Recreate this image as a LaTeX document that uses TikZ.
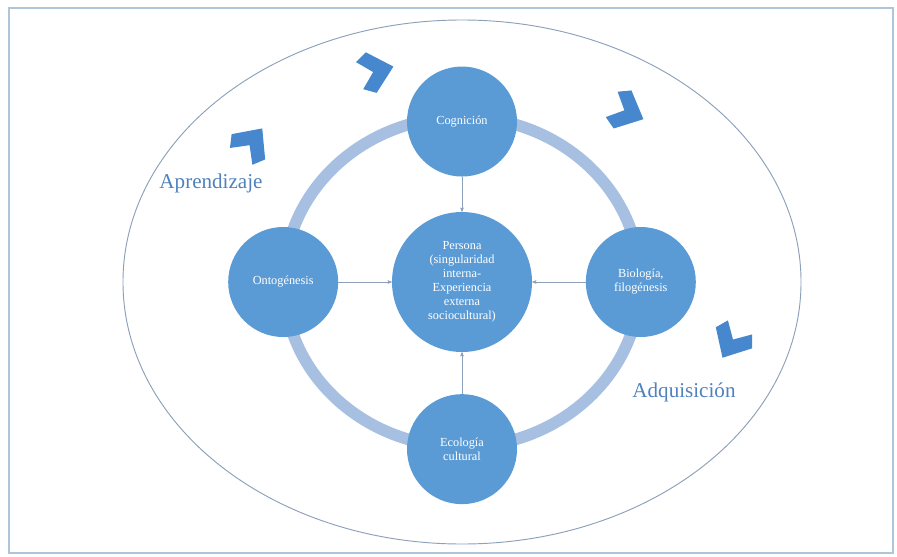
\documentclass[tikz,border=0pt]{standalone}
\usepackage{fontspec}
\setmainfont{Liberation Serif}
\usetikzlibrary{arrows,backgrounds,positioning}
\definecolor{nodeblue}{RGB}{91,155,213}
\definecolor{chevblue}{RGB}{70,135,205}
\definecolor{ringblue}{RGB}{167,192,226}
\definecolor{labelblue}{RGB}{79,129,189}
\definecolor{linegray}{RGB}{140,160,185}
\definecolor{framecol}{RGB}{175,198,218}
\tikzset{
stage/.style={
    circle,
    fill=nodeblue,
    text=white,
    minimum size=3.3cm,
    inner sep=1pt,
    align=center,
    font=\fontsize{10.5}{12}\selectfont
},
stagecore/.style={
    stage,
    minimum size=4.2cm
},
feed/.style={
    ->,linegray,thin,>=stealth'
},
ringpath/.style={
    ringblue,line width=10pt
},
outline/.style={
    draw=linegray,line width=0.8pt
},
modelabel/.style={
    text=labelblue,
    font=\fontsize{18}{20}\selectfont
},
}
\tikzset{chevron/.pic={
%
\fill [chevblue] (17,0) -- (-6,21) -- (-18,14) -- (-4,0) -- (-18,-14) -- (-6,-21) -- cycle;
%
}}

\begin{document}
\begin{tikzpicture}[x=0.03cm,y=-0.03cm]

\useasboundingbox (0,0) rectangle (897,556);
\draw [framecol,line width=1.5pt] (9,8) rectangle (893,553);

\node [stagecore] (pers) at (462,282) {Persona\\(singularidad\\interna-\\Experiencia\\externa\\sociocultural)};
\node [stage,above=1.05cm of pers] (cog) {Cognición};
\node [stage,below=1.25cm of pers] (eco) {Ecología\\cultural};
\node [stage,left=1.6cm of pers] (onto) {Ontogénesis};
\node [stage,right=1.6cm of pers] (bio) {Biología,\\filogénesis};

\draw [feed] (cog) -- (pers);
\draw [feed] (eco) -- (pers);
\draw [feed] (onto) -- (pers);
\draw [feed] (bio) -- (pers);

\begin{scope}[on background layer]
\draw [outline] (pers.center) ellipse [x radius=10.17cm, y radius=7.86cm];
\draw [ringpath] (pers.center) ellipse [x radius=5.34cm, y radius=4.95cm];
\end{scope}

\node [modelabel] (aprend) at (211,183) {Aprendizaje};
\node [modelabel] (adq) at (684,392) {Adquisición};

\pic [rotate=53] at (252,142) {chevron};
\pic [rotate=15] at (377,71) {chevron};
\pic [rotate=-25] at (628,112) {chevron};
\pic [rotate=-120] at (731,343) {chevron};

\end{tikzpicture}
\end{document}
